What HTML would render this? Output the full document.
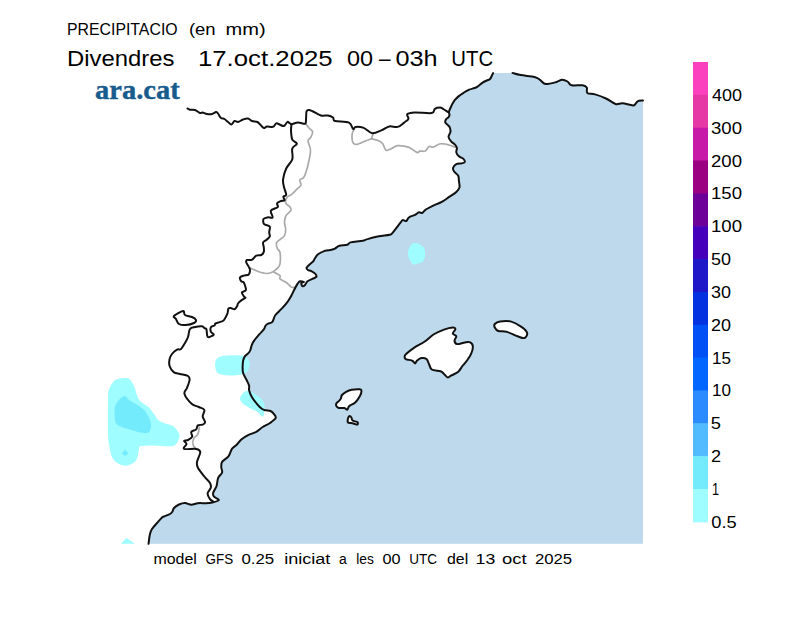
<!DOCTYPE html>
<html><head><meta charset="utf-8"><style>
html,body{margin:0;padding:0;background:#fff;width:800px;height:617px;overflow:hidden}
svg{position:absolute;left:0;top:0}
svg text{font-family:"Liberation Sans",sans-serif;fill:#000}
</style></head><body>
<svg width="800" height="617" viewBox="0 0 800 617">
<path d="M493.1,73.1 C492.9,73.5 492.5,74.3 492.0,75.3 C491.5,76.3 490.9,78.1 490.0,79.0 C489.1,79.9 488.0,79.9 486.8,80.5 C485.6,81.1 484.2,81.6 482.7,82.6 C481.1,83.6 478.9,85.8 477.5,86.7 C476.1,87.6 475.8,87.5 474.4,88.0 C473.0,88.5 470.9,89.0 469.2,89.7 C467.5,90.5 465.7,91.4 464.0,92.5 C462.3,93.6 460.4,94.8 458.8,96.1 C457.2,97.4 455.9,98.7 454.7,100.2 C453.5,101.8 452.6,103.5 451.6,105.4 C450.7,107.3 449.4,110.0 449.0,111.6 C448.6,113.2 449.6,113.8 449.5,114.8 C449.4,115.8 449.0,116.5 448.4,117.3 C447.8,118.1 446.4,118.5 445.9,119.4 C445.4,120.3 445.0,121.5 445.3,122.5 C445.6,123.5 447.1,124.3 447.9,125.1 C448.6,125.9 449.4,126.4 449.8,127.5 C450.2,128.6 450.7,130.1 450.5,131.7 C450.3,133.2 448.4,135.2 448.5,136.8 C448.6,138.4 450.0,140.1 451.1,141.4 C452.2,142.7 454.0,143.5 455.0,144.6 C456.0,145.7 456.7,146.6 456.9,147.9 C457.1,149.2 456.0,151.0 456.3,152.4 C456.6,153.8 457.7,155.2 458.9,156.3 C460.1,157.4 462.4,157.9 463.4,158.9 C464.4,159.9 465.0,161.3 464.7,162.1 C464.4,162.8 462.9,163.1 461.5,163.4 C460.1,163.7 457.7,163.3 456.3,164.1 C454.9,164.9 453.3,166.7 453.0,168.0 C452.7,169.3 453.4,170.5 454.3,171.8 C455.2,173.1 457.4,174.2 458.2,175.7 C459.0,177.2 458.7,178.9 458.9,180.9 C459.1,182.9 459.9,185.6 459.5,187.4 C459.1,189.2 457.9,190.4 456.3,191.9 C454.7,193.4 452.4,194.7 450.0,196.3 C447.6,197.9 444.6,200.3 442.2,201.7 C439.8,203.1 438.0,203.4 435.4,204.6 C432.8,205.8 428.6,207.9 426.7,209.0 C424.8,210.1 425.0,210.2 424.2,210.9 C423.4,211.6 422.7,212.9 421.8,213.1 C420.9,213.3 420.0,211.9 418.9,212.2 C417.8,212.5 416.5,214.1 415.0,214.8 C413.5,215.6 411.2,216.1 410.1,216.7 C409.0,217.3 408.9,217.5 408.2,218.2 C407.5,218.9 407.1,220.8 406.2,221.1 C405.3,221.4 403.7,219.9 402.8,220.1 C401.9,220.3 402.6,220.0 400.9,222.1 C399.2,224.2 394.5,230.7 392.6,232.8 C390.7,234.9 392.0,234.1 389.7,234.7 C387.4,235.3 382.5,235.6 378.8,236.3 C375.1,237.0 370.1,238.3 367.5,239.1 C364.9,239.8 365.8,240.2 363.0,240.8 C360.2,241.4 353.2,241.8 350.6,242.4 C348.0,243.1 349.2,244.1 347.3,244.7 C345.4,245.3 341.5,245.2 339.4,245.8 C337.3,246.5 336.2,247.9 334.9,248.6 C333.6,249.3 333.2,249.4 331.5,249.8 C329.8,250.2 326.9,250.2 324.7,250.9 C322.4,251.7 319.7,253.0 318.0,254.3 C316.3,255.6 315.4,257.7 314.6,258.8 C313.9,259.9 314.4,260.0 313.5,261.0 C312.6,262.0 310.2,263.9 309.0,265.0 C307.8,266.1 306.7,267.0 306.5,267.8 C306.3,268.6 307.1,269.4 307.9,270.0 C308.7,270.6 310.0,270.4 311.3,271.1 C312.6,271.8 314.7,273.0 315.5,274.0 C316.3,275.0 316.8,276.1 316.3,276.9 C315.8,277.7 314.0,278.1 312.5,278.8 C311.0,279.5 308.8,280.3 307.5,281.3 C306.2,282.3 305.8,284.2 305.0,285.0 C304.2,285.8 303.1,286.6 302.5,286.3 C301.9,286.0 301.1,283.8 301.3,283.1 C301.5,282.4 304.0,282.2 303.8,281.9 C303.6,281.6 301.1,281.0 300.0,281.3 C298.9,281.6 298.5,282.4 297.5,283.8 C296.5,285.2 295.1,288.0 294.1,290.0 C293.1,292.0 292.3,293.8 291.3,295.7 C290.3,297.6 289.4,299.2 287.9,301.3 C286.4,303.4 284.3,305.9 282.2,308.2 C280.1,310.5 276.8,313.2 275.4,315.0 C274.0,316.8 274.3,317.7 273.7,318.9 C273.1,320.1 273.1,321.4 272.0,322.3 C270.9,323.2 268.5,323.3 267.4,324.0 C266.3,324.7 265.8,325.4 265.2,326.3 C264.6,327.2 264.9,327.8 264.0,329.1 C263.1,330.4 261.2,332.2 259.5,334.2 C257.8,336.2 255.1,339.2 253.8,341.1 C252.5,343.0 252.2,344.1 251.6,345.6 C251.0,347.1 250.9,348.7 250.4,350.0 C249.9,351.3 249.3,352.2 248.4,353.2 C247.5,354.2 246.1,354.6 245.2,355.8 C244.3,357.0 243.6,358.5 243.2,360.4 C242.8,362.2 242.6,364.8 242.6,366.9 C242.6,369.0 242.5,371.1 243.2,373.3 C243.8,375.5 245.5,377.7 246.5,379.8 C247.5,381.9 248.7,384.0 249.1,385.7 C249.5,387.4 248.7,388.4 249.1,390.2 C249.5,392.0 250.4,394.4 251.7,396.7 C253.0,399.0 255.2,401.8 256.9,403.8 C258.6,405.9 260.6,407.9 262.1,409.0 C263.6,410.1 264.5,410.0 265.9,410.3 C267.3,410.6 269.1,410.4 270.5,411.0 C271.9,411.6 273.1,412.9 274.0,414.1 C274.9,415.3 276.3,416.6 275.6,418.1 C274.9,419.6 272.1,421.5 270.0,423.0 C267.9,424.5 265.0,425.5 262.7,427.0 C260.4,428.5 258.6,430.5 256.2,431.9 C253.8,433.2 250.5,433.9 248.1,435.1 C245.7,436.3 243.5,437.6 241.6,439.2 C239.7,440.8 238.3,443.2 236.7,444.8 C235.1,446.4 233.2,447.0 231.9,448.9 C230.6,450.8 230.2,454.0 228.6,456.2 C227.0,458.4 223.3,460.0 222.1,461.9 C220.9,463.8 221.3,465.8 221.3,467.5 C221.3,469.2 222.6,470.6 222.1,472.4 C221.6,474.2 219.0,475.8 218.1,478.1 C217.2,480.4 217.3,483.8 216.5,486.2 C215.7,488.6 213.6,490.9 213.2,492.7 C212.8,494.4 213.1,495.5 214.0,496.7 C214.9,497.9 219.2,499.1 218.9,500.0 C218.6,500.9 214.6,501.9 212.4,502.4 C210.2,502.9 208.3,503.1 205.9,503.2 C203.5,503.3 200.2,502.9 197.8,503.2 C195.4,503.5 193.4,504.8 191.3,504.8 C189.2,504.8 187.1,503.1 185.0,503.0 C182.9,502.9 180.8,503.7 179.0,504.5 C177.2,505.3 175.1,506.8 174.0,508.0 C172.9,509.2 173.2,510.5 172.5,511.5 C171.8,512.5 171.4,513.2 170.0,514.0 C168.6,514.8 165.3,515.9 164.0,516.5 C162.7,517.1 163.2,516.4 162.0,517.5 C160.8,518.6 158.7,521.1 157.0,523.0 C155.3,524.9 153.2,527.2 152.0,529.0 C150.8,530.8 150.5,532.2 150.0,534.0 C149.5,535.8 149.2,538.4 149.0,540.0 C148.8,541.6 148.6,543.2 148.5,543.8 L643,543.8 L643,100.4 L643.0,100.4 C642.1,100.6 639.2,100.5 637.6,101.3 C636.0,102.1 636.0,105.1 633.5,105.4 C631.0,105.7 625.5,103.4 622.5,103.2 C619.5,103.0 618.4,104.8 615.6,104.0 C612.9,103.2 609.4,100.1 606.0,98.5 C602.6,96.9 598.1,95.3 595.0,94.4 C591.9,93.5 588.7,94.2 587.3,93.0 C585.9,91.8 587.6,88.8 586.8,87.5 C586.0,86.2 585.1,85.7 582.6,85.3 C580.1,84.9 574.1,85.9 571.6,85.3 C569.1,84.7 569.1,82.4 567.5,81.5 C565.9,80.6 563.8,79.7 562.0,79.8 C560.2,79.9 559.2,81.3 556.5,82.0 C553.8,82.7 548.2,84.4 545.5,84.0 C542.8,83.6 541.8,81.0 540.0,79.8 C538.2,78.6 537.7,77.8 534.5,77.0 C531.3,76.2 524.5,75.8 520.8,75.1 C517.1,74.4 513.9,73.3 512.5,72.9 Z" fill="#bdd9eb"/>
<path d="M108.1,396.0 C108.4,388.1 108.9,390.1 109.7,387.8 C110.5,385.5 111.7,383.7 113.0,382.2 C114.3,380.7 115.6,379.6 117.8,378.9 C120.0,378.2 124.0,378.0 126.0,378.1 C128.0,378.2 128.7,378.4 130.0,379.7 C131.3,381.0 132.9,383.5 134.1,386.2 C135.3,388.9 136.2,393.4 137.3,396.0 C138.4,398.6 138.7,399.7 140.6,401.6 C142.5,403.5 146.4,405.1 148.7,407.3 C151.0,409.5 152.7,412.4 154.3,414.6 C155.9,416.8 156.6,418.8 158.4,420.3 C160.2,421.8 162.5,422.6 164.9,423.5 C167.3,424.4 170.8,424.6 173.0,426.0 C175.2,427.4 176.8,429.9 177.9,431.6 C179.0,433.4 179.7,434.6 179.5,436.5 C179.3,438.4 178.3,441.4 177.0,443.0 C175.7,444.6 175.3,445.8 171.4,446.2 C167.5,446.6 158.6,445.4 153.5,445.4 C148.4,445.4 143.0,445.5 140.6,446.2 C138.2,446.9 139.4,447.6 138.9,449.5 C138.4,451.4 138.1,455.4 137.3,457.6 C136.5,459.8 136.0,461.1 134.1,462.5 C132.2,463.9 128.7,465.6 126.0,465.7 C123.3,465.8 120.1,464.6 117.8,463.3 C115.5,462.0 113.5,460.2 112.2,457.6 C110.9,455.0 110.4,451.7 109.7,447.9 C109.0,444.1 108.4,443.5 108.1,434.9 C107.8,426.2 107.8,403.9 108.1,396.0 Z" fill="#9ffcff"/>
<path d="M115.4,405.7 C116.2,403.5 117.9,400.8 119.5,399.2 C121.1,397.6 123.5,395.9 125.1,396.0 C126.7,396.1 127.2,398.5 129.2,400.0 C131.2,401.5 134.9,403.3 137.3,404.9 C139.7,406.5 141.9,407.7 143.8,409.7 C145.7,411.7 147.5,414.4 148.7,417.0 C149.9,419.6 151.1,422.5 151.1,425.1 C151.1,427.7 150.4,431.2 148.7,432.4 C146.9,433.6 143.8,432.9 140.6,432.4 C137.3,431.9 132.7,430.3 129.2,429.2 C125.7,428.1 121.8,427.2 119.5,426.0 C117.2,424.8 116.2,424.2 115.4,421.9 C114.6,419.6 114.6,414.9 114.6,412.2 C114.6,409.5 114.6,407.9 115.4,405.7 Z" fill="#74eafd"/>
<path d="M215.4,361.7 C215.8,360.0 216.5,358.8 218.0,357.8 C219.5,356.8 221.8,356.2 224.4,355.8 C227.0,355.4 230.5,355.2 233.5,355.2 C236.5,355.2 240.2,355.3 242.6,355.8 C245.0,356.3 246.6,357.2 247.8,358.4 C249.0,359.6 249.6,361.2 249.7,363.0 C249.8,364.8 249.2,367.7 248.4,369.4 C247.7,371.1 247.2,372.3 245.2,373.3 C243.1,374.3 239.3,375.0 236.1,375.3 C232.8,375.6 228.7,375.6 225.7,375.3 C222.7,375.0 219.7,374.5 218.0,373.3 C216.3,372.1 215.8,370.1 215.4,368.2 C215.0,366.3 215.0,363.4 215.4,361.7 Z" fill="#9ffcff"/>
<path d="M240.0,398.6 C240.0,397.0 241.3,394.7 242.6,393.4 C243.9,392.1 246.1,390.9 247.8,390.8 C249.5,390.7 250.8,391.5 253.0,392.8 C255.2,394.1 259.0,396.9 260.8,398.6 C262.6,400.3 263.4,401.5 264.0,403.2 C264.6,404.9 264.8,406.7 264.6,409.0 C264.4,411.3 264.0,416.4 262.7,416.8 C261.4,417.2 259.4,413.2 256.9,411.6 C254.4,410.0 250.2,408.4 247.8,407.0 C245.4,405.6 243.9,404.6 242.6,403.2 C241.3,401.8 240.0,400.2 240.0,398.6 Z" fill="#9ffcff"/>
<path d="M413.0,243.0 L417.0,243.0 L420.0,244.5 L423.5,247.0 L425.0,250.0 L425.0,257.0 L424.0,260.0 L421.5,262.5 L416.0,264.0 L413.0,265.0 L411.0,262.0 L409.0,259.0 L408.0,255.0 L408.0,252.0 L409.0,248.0 L411.0,245.0 Z" fill="#9ffcff"/>
<path d="M125.1,449.5 L128.4,453.5 L125.1,456 L121.9,453.5 Z" fill="#74eafd"/>
<path d="M121,543.8 L126.5,538 L135,543.8 Z" fill="#9ffcff"/>
<g fill="none" stroke="#aaaaaa" stroke-width="1.7" stroke-linejoin="round" stroke-linecap="round">
<path d="M306.0,124.0 C306.5,124.7 307.9,126.8 309.0,128.0 C310.1,129.2 312.2,130.0 312.5,131.5 C312.8,133.0 311.8,135.4 311.0,137.0 C310.2,138.6 308.1,138.8 308.0,141.0 C307.9,143.2 310.5,146.0 310.5,150.0 C310.5,154.0 309.1,160.5 308.0,165.0 C306.9,169.5 305.4,174.5 304.0,177.0 C302.6,179.5 300.3,178.7 299.8,180.0 C299.3,181.3 301.5,183.6 301.0,185.1 C300.5,186.6 298.6,187.5 297.0,189.1 C295.4,190.7 292.9,193.4 291.3,194.7 C289.7,196.0 288.2,195.7 287.3,197.0 C286.4,198.3 285.1,201.0 285.6,202.7 C286.1,204.4 289.4,205.9 290.2,207.2 C291.0,208.5 291.5,209.1 290.7,210.6 C289.9,212.1 286.6,214.2 285.6,216.3 C284.6,218.4 284.5,221.0 284.5,223.1 C284.5,225.2 285.6,226.7 285.6,228.8 C285.6,230.9 285.8,233.5 284.5,235.6 C283.2,237.7 279.1,239.9 277.7,241.3 C276.3,242.7 276.3,242.6 276.3,243.8 C276.3,245.1 276.9,247.4 277.5,248.8 C278.1,250.2 279.6,250.0 280.0,252.5 C280.4,255.0 280.4,261.2 280.0,263.8 C279.6,266.4 278.8,266.8 277.5,268.1 C276.2,269.5 274.4,271.0 272.5,271.9 C270.6,272.8 268.8,273.6 266.3,273.5 C263.8,273.4 260.1,272.2 257.5,271.3 C254.9,270.4 251.8,268.6 250.6,268.1"/><path d="M273.8,271.9 C274.8,272.5 279.0,274.5 280.0,275.6 C281.0,276.8 278.9,277.7 280.0,278.8 C281.1,279.9 284.4,281.1 286.3,282.5 C288.2,283.9 289.9,286.1 291.3,286.9 C292.8,287.7 294.4,287.4 295.0,287.5"/><path d="M354.2,129.0 C353.9,129.9 352.3,132.0 352.1,134.3 C351.9,136.6 352.2,141.1 353.1,142.8 C354.0,144.5 355.3,144.7 357.4,144.3 C359.5,144.0 363.6,141.6 365.9,140.7 C368.2,139.8 370.0,139.8 371.2,138.6 C372.4,137.3 372.9,134.1 373.3,133.2"/><path d="M371.2,138.6 C372.4,138.9 376.7,139.8 378.6,140.7 C380.6,141.6 381.6,142.3 382.9,143.9 C384.1,145.5 384.5,149.5 386.1,150.2 C387.7,150.9 390.5,148.9 392.4,148.1 C394.3,147.3 395.0,145.8 397.7,145.6 C400.4,145.4 405.2,146.0 408.4,147.1 C411.6,148.2 415.0,151.7 416.9,152.4 C418.8,153.1 418.6,151.3 420.0,151.1 C421.4,150.9 423.7,151.8 425.2,151.1 C426.7,150.3 427.8,147.2 429.1,146.6 C430.4,145.9 431.3,147.6 433.0,147.2 C434.7,146.8 437.5,144.5 439.4,144.0 C441.3,143.5 442.9,143.8 444.6,144.0 C446.3,144.2 448.0,144.8 449.8,145.3 C451.6,145.8 454.6,146.9 455.6,147.2"/><path d="M199.4,427.0 C199.1,428.2 198.7,432.4 197.8,434.3 C196.9,436.2 194.6,436.6 193.8,438.4 C193.0,440.1 192.6,443.1 193.0,444.8 C193.4,446.6 195.7,448.2 196.2,448.9"/>
</g>
<g fill="none" stroke="#111" stroke-width="2" stroke-linejoin="round" stroke-linecap="round">
<path d="M493.1,73.1 C492.9,73.5 492.5,74.3 492.0,75.3 C491.5,76.3 490.9,78.1 490.0,79.0 C489.1,79.9 488.0,79.9 486.8,80.5 C485.6,81.1 484.2,81.6 482.7,82.6 C481.1,83.6 478.9,85.8 477.5,86.7 C476.1,87.6 475.8,87.5 474.4,88.0 C473.0,88.5 470.9,89.0 469.2,89.7 C467.5,90.5 465.7,91.4 464.0,92.5 C462.3,93.6 460.4,94.8 458.8,96.1 C457.2,97.4 455.9,98.7 454.7,100.2 C453.5,101.8 452.6,103.5 451.6,105.4 C450.7,107.3 449.4,110.0 449.0,111.6 C448.6,113.2 449.6,113.8 449.5,114.8 C449.4,115.8 449.0,116.5 448.4,117.3 C447.8,118.1 446.4,118.5 445.9,119.4 C445.4,120.3 445.0,121.5 445.3,122.5 C445.6,123.5 447.1,124.3 447.9,125.1 C448.6,125.9 449.4,126.4 449.8,127.5 C450.2,128.6 450.7,130.1 450.5,131.7 C450.3,133.2 448.4,135.2 448.5,136.8 C448.6,138.4 450.0,140.1 451.1,141.4 C452.2,142.7 454.0,143.5 455.0,144.6 C456.0,145.7 456.7,146.6 456.9,147.9 C457.1,149.2 456.0,151.0 456.3,152.4 C456.6,153.8 457.7,155.2 458.9,156.3 C460.1,157.4 462.4,157.9 463.4,158.9 C464.4,159.9 465.0,161.3 464.7,162.1 C464.4,162.8 462.9,163.1 461.5,163.4 C460.1,163.7 457.7,163.3 456.3,164.1 C454.9,164.9 453.3,166.7 453.0,168.0 C452.7,169.3 453.4,170.5 454.3,171.8 C455.2,173.1 457.4,174.2 458.2,175.7 C459.0,177.2 458.7,178.9 458.9,180.9 C459.1,182.9 459.9,185.6 459.5,187.4 C459.1,189.2 457.9,190.4 456.3,191.9 C454.7,193.4 452.4,194.7 450.0,196.3 C447.6,197.9 444.6,200.3 442.2,201.7 C439.8,203.1 438.0,203.4 435.4,204.6 C432.8,205.8 428.6,207.9 426.7,209.0 C424.8,210.1 425.0,210.2 424.2,210.9 C423.4,211.6 422.7,212.9 421.8,213.1 C420.9,213.3 420.0,211.9 418.9,212.2 C417.8,212.5 416.5,214.1 415.0,214.8 C413.5,215.6 411.2,216.1 410.1,216.7 C409.0,217.3 408.9,217.5 408.2,218.2 C407.5,218.9 407.1,220.8 406.2,221.1 C405.3,221.4 403.7,219.9 402.8,220.1 C401.9,220.3 402.6,220.0 400.9,222.1 C399.2,224.2 394.5,230.7 392.6,232.8 C390.7,234.9 392.0,234.1 389.7,234.7 C387.4,235.3 382.5,235.6 378.8,236.3 C375.1,237.0 370.1,238.3 367.5,239.1 C364.9,239.8 365.8,240.2 363.0,240.8 C360.2,241.4 353.2,241.8 350.6,242.4 C348.0,243.1 349.2,244.1 347.3,244.7 C345.4,245.3 341.5,245.2 339.4,245.8 C337.3,246.5 336.2,247.9 334.9,248.6 C333.6,249.3 333.2,249.4 331.5,249.8 C329.8,250.2 326.9,250.2 324.7,250.9 C322.4,251.7 319.7,253.0 318.0,254.3 C316.3,255.6 315.4,257.7 314.6,258.8 C313.9,259.9 314.4,260.0 313.5,261.0 C312.6,262.0 310.2,263.9 309.0,265.0 C307.8,266.1 306.7,267.0 306.5,267.8 C306.3,268.6 307.1,269.4 307.9,270.0 C308.7,270.6 310.0,270.4 311.3,271.1 C312.6,271.8 314.7,273.0 315.5,274.0 C316.3,275.0 316.8,276.1 316.3,276.9 C315.8,277.7 314.0,278.1 312.5,278.8 C311.0,279.5 308.8,280.3 307.5,281.3 C306.2,282.3 305.8,284.2 305.0,285.0 C304.2,285.8 303.1,286.6 302.5,286.3 C301.9,286.0 301.1,283.8 301.3,283.1 C301.5,282.4 304.0,282.2 303.8,281.9 C303.6,281.6 301.1,281.0 300.0,281.3 C298.9,281.6 298.5,282.4 297.5,283.8 C296.5,285.2 295.1,288.0 294.1,290.0 C293.1,292.0 292.3,293.8 291.3,295.7 C290.3,297.6 289.4,299.2 287.9,301.3 C286.4,303.4 284.3,305.9 282.2,308.2 C280.1,310.5 276.8,313.2 275.4,315.0 C274.0,316.8 274.3,317.7 273.7,318.9 C273.1,320.1 273.1,321.4 272.0,322.3 C270.9,323.2 268.5,323.3 267.4,324.0 C266.3,324.7 265.8,325.4 265.2,326.3 C264.6,327.2 264.9,327.8 264.0,329.1 C263.1,330.4 261.2,332.2 259.5,334.2 C257.8,336.2 255.1,339.2 253.8,341.1 C252.5,343.0 252.2,344.1 251.6,345.6 C251.0,347.1 250.9,348.7 250.4,350.0 C249.9,351.3 249.3,352.2 248.4,353.2 C247.5,354.2 246.1,354.6 245.2,355.8 C244.3,357.0 243.6,358.5 243.2,360.4 C242.8,362.2 242.6,364.8 242.6,366.9 C242.6,369.0 242.5,371.1 243.2,373.3 C243.8,375.5 245.5,377.7 246.5,379.8 C247.5,381.9 248.7,384.0 249.1,385.7 C249.5,387.4 248.7,388.4 249.1,390.2 C249.5,392.0 250.4,394.4 251.7,396.7 C253.0,399.0 255.2,401.8 256.9,403.8 C258.6,405.9 260.6,407.9 262.1,409.0 C263.6,410.1 264.5,410.0 265.9,410.3 C267.3,410.6 269.1,410.4 270.5,411.0 C271.9,411.6 273.1,412.9 274.0,414.1 C274.9,415.3 276.3,416.6 275.6,418.1 C274.9,419.6 272.1,421.5 270.0,423.0 C267.9,424.5 265.0,425.5 262.7,427.0 C260.4,428.5 258.6,430.5 256.2,431.9 C253.8,433.2 250.5,433.9 248.1,435.1 C245.7,436.3 243.5,437.6 241.6,439.2 C239.7,440.8 238.3,443.2 236.7,444.8 C235.1,446.4 233.2,447.0 231.9,448.9 C230.6,450.8 230.2,454.0 228.6,456.2 C227.0,458.4 223.3,460.0 222.1,461.9 C220.9,463.8 221.3,465.8 221.3,467.5 C221.3,469.2 222.6,470.6 222.1,472.4 C221.6,474.2 219.0,475.8 218.1,478.1 C217.2,480.4 217.3,483.8 216.5,486.2 C215.7,488.6 213.6,490.9 213.2,492.7 C212.8,494.4 213.1,495.5 214.0,496.7 C214.9,497.9 219.2,499.1 218.9,500.0 C218.6,500.9 214.6,501.9 212.4,502.4 C210.2,502.9 208.3,503.1 205.9,503.2 C203.5,503.3 200.2,502.9 197.8,503.2 C195.4,503.5 193.4,504.8 191.3,504.8 C189.2,504.8 187.1,503.1 185.0,503.0 C182.9,502.9 180.8,503.7 179.0,504.5 C177.2,505.3 175.1,506.8 174.0,508.0 C172.9,509.2 173.2,510.5 172.5,511.5 C171.8,512.5 171.4,513.2 170.0,514.0 C168.6,514.8 165.3,515.9 164.0,516.5 C162.7,517.1 163.2,516.4 162.0,517.5 C160.8,518.6 158.7,521.1 157.0,523.0 C155.3,524.9 153.2,527.2 152.0,529.0 C150.8,530.8 150.5,532.2 150.0,534.0 C149.5,535.8 149.2,538.4 149.0,540.0 C148.8,541.6 148.6,543.2 148.5,543.8"/><path d="M512.5,72.9 C513.9,73.3 517.1,74.4 520.8,75.1 C524.5,75.8 531.3,76.2 534.5,77.0 C537.7,77.8 538.2,78.6 540.0,79.8 C541.8,81.0 542.8,83.6 545.5,84.0 C548.2,84.4 553.8,82.7 556.5,82.0 C559.2,81.3 560.2,79.9 562.0,79.8 C563.8,79.7 565.9,80.6 567.5,81.5 C569.1,82.4 569.1,84.7 571.6,85.3 C574.1,85.9 580.1,84.9 582.6,85.3 C585.1,85.7 586.0,86.2 586.8,87.5 C587.6,88.8 585.9,91.8 587.3,93.0 C588.7,94.2 591.9,93.5 595.0,94.4 C598.1,95.3 602.6,96.9 606.0,98.5 C609.4,100.1 612.9,103.2 615.6,104.0 C618.4,104.8 619.5,103.0 622.5,103.2 C625.5,103.4 631.0,105.7 633.5,105.4 C636.0,105.1 636.0,102.1 637.6,101.3 C639.2,100.5 642.1,100.6 643.0,100.4"/><path d="M187.5,108.5 C187.9,108.7 188.8,109.5 190.0,109.8 C191.2,110.0 193.3,109.5 195.0,110.0 C196.7,110.5 198.8,112.6 200.0,113.0 C201.2,113.4 201.3,112.3 202.5,112.5 C203.7,112.7 205.4,113.8 207.0,114.0 C208.6,114.2 210.5,114.3 212.0,114.0 C213.5,113.7 215.0,112.1 216.0,112.0 C217.0,111.9 217.2,112.5 218.0,113.5 C218.8,114.5 219.9,117.1 221.0,118.0 C222.1,118.9 223.3,118.3 224.5,119.0 C225.7,119.7 226.8,121.1 228.0,122.0 C229.2,122.9 230.4,124.7 231.5,124.5 C232.6,124.3 233.4,121.4 234.5,121.0 C235.6,120.6 236.6,122.2 238.0,122.0 C239.4,121.8 241.3,120.1 243.0,119.5 C244.7,118.9 246.5,118.2 248.0,118.5 C249.5,118.8 250.4,120.4 252.0,121.0 C253.6,121.6 256.0,121.2 257.5,122.0 C259.0,122.8 259.9,124.5 261.0,125.5 C262.1,126.5 263.0,127.8 264.0,128.0 C265.0,128.2 265.5,126.7 267.0,126.5 C268.5,126.3 271.5,127.3 273.0,126.8 C274.5,126.3 275.2,124.0 276.0,123.5 C276.8,123.0 276.8,123.4 278.0,123.8 C279.2,124.2 281.8,125.8 283.0,126.0 C284.2,126.2 284.2,125.7 285.0,125.0 C285.8,124.3 286.8,122.1 287.5,121.8 C288.2,121.5 288.8,122.6 289.5,123.0 C290.2,123.4 290.1,124.3 291.5,124.2 C292.9,124.1 295.8,122.6 298.0,122.5 C300.2,122.4 303.7,124.2 305.0,123.8 C306.3,123.4 305.8,122.0 306.0,120.0 C306.2,118.0 306.0,113.2 306.5,111.5 C307.0,109.8 307.9,110.0 309.0,110.0 C310.1,110.0 311.0,110.6 313.0,111.5 C315.0,112.4 318.5,114.8 321.0,115.5 C323.5,116.2 326.0,115.2 328.0,115.5 C330.0,115.8 331.8,116.6 333.0,117.5 C334.2,118.4 332.4,120.2 335.0,121.0 C337.6,121.8 345.9,121.3 348.9,122.6 C351.9,123.9 352.0,128.3 353.1,129.0 C354.2,129.7 353.9,127.1 355.7,126.9 C357.5,126.7 360.9,126.9 363.7,127.9 C366.4,128.9 369.2,132.8 372.2,133.2 C375.2,133.6 379.0,131.2 381.8,130.1 C384.6,129.0 386.6,126.9 389.2,126.4 C391.8,125.9 395.2,127.5 397.7,126.9 C400.2,126.3 402.3,123.9 404.1,122.6 C405.9,121.2 407.9,120.2 408.4,118.8 C408.9,117.4 406.2,115.2 407.3,114.1 C408.4,113.0 410.6,112.6 414.7,112.4 C418.8,112.2 428.3,113.7 431.7,113.1 C435.1,112.5 433.5,109.7 434.9,108.8 C436.3,107.9 438.7,107.5 440.1,107.5 C441.5,107.5 441.9,108.2 443.3,109.0 C444.7,109.8 447.5,111.7 448.4,112.2"/><path d="M291.5,124.2 C291.4,125.2 291.0,128.0 291.0,130.0 C291.0,132.0 291.2,134.3 291.5,136.0 C291.8,137.7 291.6,138.7 292.5,140.0 C293.4,141.3 296.9,142.4 296.9,143.8 C296.9,145.2 293.1,145.9 292.3,148.5 C291.5,151.1 293.3,155.9 292.3,159.2 C291.3,162.5 287.7,165.2 286.2,168.5 C284.7,171.8 283.5,176.1 283.1,179.2 C282.7,182.2 283.4,184.2 283.9,186.8 C284.4,189.4 286.3,193.1 286.2,194.7 C286.1,196.3 283.7,195.6 283.4,196.5 C283.1,197.4 284.9,199.7 284.5,200.4 C284.1,201.2 282.3,200.5 281.1,201.0 C279.9,201.5 277.7,202.3 277.1,203.3 C276.5,204.3 278.7,206.0 277.7,207.2 C276.7,208.4 271.8,208.9 270.9,210.6 C270.0,212.3 273.2,216.3 272.6,217.4 C272.0,218.5 269.0,217.1 267.5,217.4 C266.0,217.7 264.1,218.0 263.5,219.1 C262.9,220.2 263.1,223.0 264.1,224.2 C265.1,225.4 268.9,225.2 269.7,226.5 C270.5,227.8 269.2,230.5 269.2,232.2 C269.2,233.9 270.2,235.4 269.7,236.7 C269.2,238.0 267.4,239.0 266.3,240.0 C265.2,241.0 263.5,241.2 263.1,242.5 C262.7,243.8 263.7,245.9 263.8,247.5 C263.9,249.1 264.2,250.7 263.8,251.9 C263.4,253.2 262.6,254.4 261.3,255.0 C260.1,255.6 257.6,255.1 256.3,255.6 C255.1,256.1 254.6,257.4 253.8,258.1 C253.0,258.8 252.5,259.7 251.3,260.0 C250.2,260.3 247.7,259.6 246.9,260.0 C246.1,260.4 246.0,261.4 246.3,262.5 C246.6,263.6 248.2,265.6 248.8,266.9 C249.4,268.1 250.0,268.8 250.0,270.0 C250.0,271.2 249.8,273.5 248.8,274.4 C247.8,275.3 245.3,275.1 243.8,275.6 C242.3,276.1 240.4,276.6 240.0,277.5 C239.6,278.4 240.7,280.5 241.3,281.3 C241.9,282.1 243.0,281.1 243.8,282.5 C244.6,283.9 246.2,288.4 245.9,290.0 C245.6,291.6 242.2,291.2 241.9,292.3 C241.6,293.4 243.6,295.9 244.2,296.8 C244.8,297.7 245.7,297.3 245.3,297.8 C244.9,298.3 243.2,298.9 242.0,299.9 C240.8,300.8 238.8,302.5 238.0,303.5 C237.2,304.5 237.8,305.1 237.2,306.0 C236.6,306.9 235.8,308.9 234.7,309.2 C233.6,309.5 231.8,308.1 230.7,308.0 C229.6,307.9 228.9,307.9 228.3,308.8 C227.8,309.8 228.1,311.9 227.4,313.7 C226.7,315.5 225.1,318.4 224.2,319.7 C223.3,321.0 223.0,320.8 221.8,321.4 C220.6,321.9 218.0,322.7 216.9,323.0 C215.8,323.3 215.7,323.0 215.3,323.4 C214.9,323.8 215.1,324.9 214.5,325.4 C213.9,325.9 212.3,326.0 211.6,326.6 C210.9,327.2 210.5,328.1 210.4,329.0 C210.3,329.9 210.6,331.4 211.2,332.3 C211.8,333.2 214.1,333.9 213.7,334.7 C213.3,335.5 209.9,337.0 208.8,337.2 C207.7,337.4 207.6,337.0 207.2,335.6 C206.8,334.2 206.8,330.2 206.4,329.0 C206.0,327.8 205.4,328.8 204.7,328.3 C203.9,327.8 203.5,326.4 201.9,326.2 C200.3,326.0 197.0,326.5 195.0,327.0 C193.0,327.5 191.2,327.3 190.0,329.0 C188.8,330.7 188.8,334.7 188.0,337.0 C187.2,339.3 186.2,341.0 185.0,343.0 C183.8,345.0 182.3,347.9 181.0,349.0 C179.7,350.1 178.5,348.8 177.0,349.6 C175.5,350.4 173.2,352.4 172.0,354.0 C170.8,355.6 170.0,357.0 169.6,359.0 C169.2,361.0 168.9,363.8 169.6,366.0 C170.3,368.2 172.3,371.1 174.0,372.4 C175.7,373.7 177.7,373.4 180.0,374.0 C182.3,374.6 186.4,375.0 188.0,376.0 C189.6,377.0 189.8,378.0 189.6,380.0 C189.4,382.0 187.8,385.7 187.0,388.0 C186.2,390.3 183.7,391.4 184.5,394.0 C185.3,396.6 189.2,401.5 191.6,403.7 C194.0,405.9 196.8,405.9 198.9,407.0 C201.0,408.1 203.7,408.4 204.3,410.0 C204.9,411.6 202.6,414.5 202.7,416.5 C202.8,418.5 205.1,420.8 205.1,422.2 C205.1,423.6 203.9,424.1 202.7,424.6 C201.5,425.1 198.9,424.6 197.8,425.4 C196.7,426.2 197.3,428.3 196.2,429.4 C195.1,430.5 192.0,430.7 191.3,431.9 C190.6,433.1 192.7,435.3 192.2,436.7 C191.7,438.1 189.4,439.3 188.1,440.0 C186.8,440.7 184.4,440.1 184.1,440.8 C183.8,441.5 186.5,442.6 186.5,444.0 C186.5,445.4 182.5,448.1 184.1,448.9 C185.7,449.7 193.5,448.4 196.2,448.9 C198.9,449.4 200.2,449.9 200.3,452.1 C200.4,454.3 197.4,459.3 197.0,461.9 C196.6,464.5 196.6,465.1 197.8,467.5 C199.0,469.9 202.3,473.9 204.3,476.5 C206.3,479.1 208.9,481.0 210.0,482.9 C211.1,484.8 211.2,486.0 210.8,487.8 C210.4,489.6 207.7,491.6 207.6,493.5 C207.5,495.4 209.1,497.8 210.0,499.1 C210.9,500.5 212.7,501.2 213.2,501.6"/><path d="M174.0,316.0 C175.2,314.7 181.2,311.2 183.0,311.0 C184.8,310.8 183.5,314.0 185.0,315.0 C186.5,316.0 190.2,316.2 192.0,317.0 C193.8,317.8 195.7,319.0 196.0,320.0 C196.3,321.0 195.7,322.2 194.0,323.0 C192.3,323.8 188.5,324.8 186.0,325.0 C183.5,325.2 180.7,325.0 179.0,324.0 C177.3,323.0 176.8,320.3 176.0,319.0 C175.2,317.7 172.8,317.3 174.0,316.0 Z"/>
</g>
<g fill="#fff" stroke="#111" stroke-width="2" stroke-linejoin="round">
<path d="M404.6,356.4 C404.8,355.5 404.8,355.3 406.4,353.8 C408.0,352.3 411.2,349.7 414.3,347.6 C417.4,345.6 421.6,343.7 424.8,341.5 C428.0,339.3 430.3,336.5 433.5,334.5 C436.7,332.5 440.8,330.8 444.0,329.6 C447.2,328.4 450.9,327.6 452.8,327.5 C454.7,327.4 455.4,328.3 455.4,329.3 C455.4,330.3 452.6,332.4 452.8,333.6 C453.0,334.8 456.0,335.1 456.3,336.3 C456.6,337.5 454.4,339.3 454.5,340.6 C454.6,341.9 455.4,343.8 457.1,344.1 C458.9,344.4 462.8,342.7 465.0,342.4 C467.2,342.1 469.0,341.7 470.3,342.4 C471.6,343.1 472.8,344.9 472.9,346.8 C473.0,348.7 472.1,351.5 471.1,353.8 C470.1,356.1 468.2,358.8 466.8,360.8 C465.4,362.8 463.9,364.1 462.4,366.0 C460.9,367.9 459.9,370.5 458.0,372.1 C456.1,373.7 452.8,374.7 451.0,375.6 C449.2,376.5 448.7,377.7 447.5,377.4 C446.3,377.1 445.2,374.9 444.0,373.9 C442.8,372.9 442.5,372.0 440.5,371.3 C438.5,370.6 433.7,370.7 431.8,369.5 C429.9,368.3 430.0,366.1 429.1,364.3 C428.2,362.6 427.8,360.0 426.5,359.0 C425.2,358.0 422.9,357.8 421.3,358.1 C419.7,358.4 417.9,359.9 416.9,360.8 C415.9,361.7 415.8,363.4 415.1,363.4 C414.4,363.4 413.5,361.4 412.5,360.8 C411.5,360.2 410.2,360.2 409.0,359.9 C407.8,359.6 406.2,359.6 405.5,359.0 C404.8,358.4 404.5,357.3 404.6,356.4 Z"/><path d="M494.8,324.0 C495.7,323.0 497.4,321.8 500.0,321.4 C502.6,321.0 507.0,320.5 510.5,321.4 C514.0,322.3 518.2,324.7 521.0,326.6 C523.8,328.5 526.5,330.9 527.1,332.8 C527.7,334.7 526.1,337.4 524.5,338.0 C522.9,338.6 520.4,337.3 517.5,336.3 C514.6,335.3 510.2,332.8 507.0,331.9 C503.8,331.0 500.3,331.7 498.3,331.0 C496.3,330.3 495.4,328.7 494.8,327.5 C494.2,326.3 493.9,325.0 494.8,324.0 Z"/><path d="M336.3,403.5 C336.7,402.7 338.1,401.9 338.8,401.1 C339.6,400.3 340.3,399.6 340.8,398.6 C341.3,397.6 341.1,396.1 342.0,395.0 C342.9,393.9 344.5,392.7 346.1,391.8 C347.7,390.9 349.4,390.1 351.7,389.7 C354.0,389.3 358.2,389.1 359.8,389.3 C361.4,389.5 361.5,389.8 361.5,390.9 C361.5,392.0 360.9,394.2 359.8,396.2 C358.7,398.2 356.8,401.1 355.0,402.7 C353.2,404.3 350.6,404.8 349.3,405.9 C348.0,407.0 348.1,409.2 347.3,409.6 C346.5,410.0 345.8,408.3 344.4,408.0 C343.0,407.7 340.1,408.4 338.8,408.0 C337.5,407.6 336.7,406.6 336.3,405.9 C335.9,405.1 335.9,404.3 336.3,403.5 Z"/><path d="M347.7,419.7 C347.9,418.6 348.7,416.5 349.3,416.1 C349.9,415.7 350.8,416.6 351.3,417.3 C351.9,418.0 351.6,419.7 352.6,420.5 C353.6,421.3 356.6,421.4 357.4,422.1 C358.2,422.8 357.9,424.3 357.4,424.6 C356.9,424.9 355.3,424.1 354.2,423.8 C353.1,423.5 351.9,423.2 350.9,423.0 C349.9,422.8 348.6,423.1 348.1,422.5 C347.6,421.9 347.5,420.8 347.7,419.7 Z"/>
</g>
<rect x="693" y="62.00" width="15" height="33.44" fill="#fb41bd"/><rect x="693" y="94.84" width="15" height="33.44" fill="#e639a6"/><rect x="693" y="127.69" width="15" height="33.44" fill="#c71aa9"/><rect x="693" y="160.53" width="15" height="33.44" fill="#9c0082"/><rect x="693" y="193.37" width="15" height="33.44" fill="#6c0098"/><rect x="693" y="226.21" width="15" height="33.44" fill="#4400bb"/><rect x="693" y="259.06" width="15" height="33.44" fill="#1e18c8"/><rect x="693" y="291.90" width="15" height="33.44" fill="#0532e0"/><rect x="693" y="324.74" width="15" height="33.44" fill="#0050f5"/><rect x="693" y="357.59" width="15" height="33.44" fill="#0066ff"/><rect x="693" y="390.43" width="15" height="33.44" fill="#2c8cff"/><rect x="693" y="423.27" width="15" height="33.44" fill="#52bbff"/><rect x="693" y="456.11" width="15" height="33.44" fill="#74eafd"/><rect x="693" y="488.96" width="15" height="33.44" fill="#9ffcff"/>
<text x="66.99" y="35" font-size="17" textLength="110.62" lengthAdjust="spacingAndGlyphs">PRECIPITACIO</text>
<text x="188.96" y="35" font-size="17" textLength="26.69" lengthAdjust="spacingAndGlyphs">(en</text>
<text x="225.59" y="35" font-size="17" textLength="40.09" lengthAdjust="spacingAndGlyphs">mm)</text>
<text x="66.96" y="66" font-size="22" textLength="107.49" lengthAdjust="spacingAndGlyphs">Divendres</text>
<text x="197.98" y="66" font-size="22" textLength="134.64" lengthAdjust="spacingAndGlyphs">17.oct.2025</text>
<text x="346.96" y="66" font-size="22" textLength="26.09" lengthAdjust="spacingAndGlyphs">00</text>
<text x="379.0" y="66" font-size="22" textLength="11.57" lengthAdjust="spacingAndGlyphs">–</text>
<text x="395.48" y="66" font-size="22" textLength="42.13" lengthAdjust="spacingAndGlyphs">03h</text>
<text x="451.35" y="66" font-size="22" textLength="41.71" lengthAdjust="spacingAndGlyphs">UTC</text>
<text x="153.41" y="564" font-size="14" textLength="43.42" lengthAdjust="spacingAndGlyphs">model</text>
<text x="205.54" y="564" font-size="14" textLength="27.56" lengthAdjust="spacingAndGlyphs">GFS</text>
<text x="241.41" y="564" font-size="14" textLength="32.79" lengthAdjust="spacingAndGlyphs">0.25</text>
<text x="284.17" y="564" font-size="14" textLength="46.22" lengthAdjust="spacingAndGlyphs">iniciat</text>
<text x="338.98" y="564" font-size="14" textLength="7.77" lengthAdjust="spacingAndGlyphs">a</text>
<text x="356.27" y="564" font-size="14" textLength="17.62" lengthAdjust="spacingAndGlyphs">les</text>
<text x="382.56" y="564" font-size="14" textLength="18.06" lengthAdjust="spacingAndGlyphs">00</text>
<text x="409.17" y="564" font-size="14" textLength="27.84" lengthAdjust="spacingAndGlyphs">UTC</text>
<text x="446.98" y="564" font-size="14" textLength="21.24" lengthAdjust="spacingAndGlyphs">del</text>
<text x="475.62" y="564" font-size="14" textLength="19.67" lengthAdjust="spacingAndGlyphs">13</text>
<text x="502.0" y="564" font-size="14" textLength="24.61" lengthAdjust="spacingAndGlyphs">oct</text>
<text x="534.95" y="564" font-size="14" textLength="37.26" lengthAdjust="spacingAndGlyphs">2025</text>
<text x="95.06" y="98.75" font-size="28" style="font-family:'Liberation Serif',serif;font-weight:bold;fill:#185b8d;stroke:#185b8d;stroke-width:0.4px" textLength="84.61" lengthAdjust="spacingAndGlyphs">ara.cat</text>
<text x="712.0" y="100.84" font-size="16.8" textLength="29.97" lengthAdjust="spacingAndGlyphs">400</text>
<text x="710.96" y="133.69" font-size="16.8" textLength="31.04" lengthAdjust="spacingAndGlyphs">300</text>
<text x="710.96" y="166.53" font-size="16.8" textLength="31.04" lengthAdjust="spacingAndGlyphs">200</text>
<text x="710.96" y="199.37" font-size="16.8" textLength="31.04" lengthAdjust="spacingAndGlyphs">150</text>
<text x="710.96" y="232.21" font-size="16.8" textLength="31.04" lengthAdjust="spacingAndGlyphs">100</text>
<text x="711.02" y="265.06" font-size="16.8" textLength="20.01" lengthAdjust="spacingAndGlyphs">50</text>
<text x="710.99" y="297.9" font-size="16.8" textLength="20.01" lengthAdjust="spacingAndGlyphs">30</text>
<text x="710.99" y="330.74" font-size="16.8" textLength="20.01" lengthAdjust="spacingAndGlyphs">20</text>
<text x="712.03" y="363.59" font-size="16.8" textLength="19.0" lengthAdjust="spacingAndGlyphs">15</text>
<text x="712.05" y="396.43" font-size="16.8" textLength="19.01" lengthAdjust="spacingAndGlyphs">10</text>
<text x="710.88" y="429.27" font-size="16.8" textLength="10.21" lengthAdjust="spacingAndGlyphs">5</text>
<text x="710.93" y="462.11" font-size="16.8" textLength="10.07" lengthAdjust="spacingAndGlyphs">2</text>
<text x="712.01" y="494.96" font-size="16.8" textLength="7.1" lengthAdjust="spacingAndGlyphs">1</text>
<text x="711.33" y="527.8" font-size="16.8" textLength="25.42" lengthAdjust="spacingAndGlyphs">0.5</text>
</svg>
</body></html>
